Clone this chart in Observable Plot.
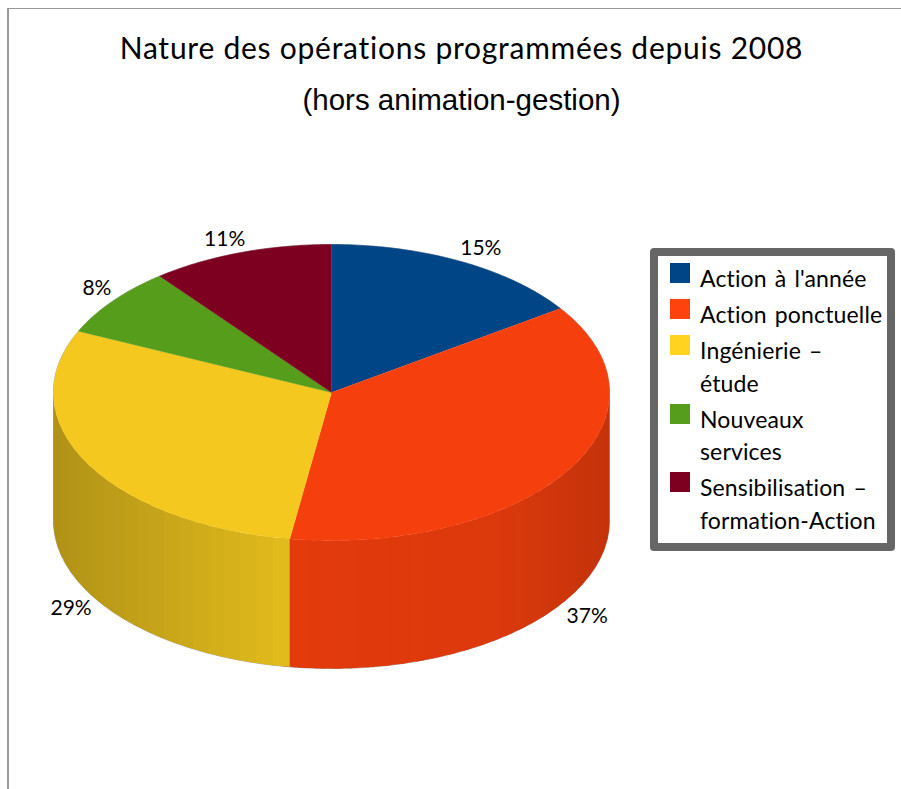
<!DOCTYPE html>
<html lang="fr"><head><meta charset="utf-8">
<script src="https://cdn.jsdelivr.net/npm/d3@7"></script>
<script src="https://cdn.jsdelivr.net/npm/@observablehq/plot@0.6"></script>
<style>
html,body{margin:0;padding:0;background:#fff}
#page{position:relative;width:901px;height:789px;overflow:hidden;font-family:Lato,sans-serif;color:#000}
#frame{position:absolute;left:7px;top:8px;right:0;bottom:0;border-left:2px solid #999;border-top:1px solid #999}
#chart{position:absolute;left:0;top:0}
h1{position:absolute;left:0;width:923px;top:25px;margin:0;text-align:center;font-weight:400;font-size:30px;line-height:44px;letter-spacing:.75px;white-space:nowrap}
h2{position:absolute;left:0;width:923px;top:80px;margin:0;text-align:center;font-family:"Liberation Sans",sans-serif;font-weight:400;font-size:29.5px;line-height:40px;white-space:nowrap}
#legend{position:absolute;left:650px;top:248px;width:229px;height:287px;border:8px solid #666;border-radius:4px;background:#fff}
#legend div{position:absolute;left:42px;font-size:23px;line-height:33px;letter-spacing:.15px;word-spacing:2px;white-space:pre}
#legend i{position:absolute;left:-30px;top:1px;width:20px;height:20px}
</style></head><body>
<div id="page"><div id="frame"></div><div id="chart"></div>
<h1>Nature des opérations programmées depuis 2008</h1>
<h2>(hors animation-gestion)</h2>
<div id="legend"></div></div>
<script>
const categories = ["Action à l'année","Action ponctuelle","Ingénierie – étude","Nouveaux services","Sensibilisation – formation-Action"];
const legendLines = [["Action à l'année"],["Action ponctuelle"],["Ingénierie –","étude"],["Nouveaux","services"],["Sensibilisation –","formation-Action"]];
const shares = [15.4, 37, 29.4, 7.6, 10.6];
const colors = ["#004586","#ff420e","#ffd320","#579d1c","#7e0021"];
const topColors = ["#004586","#f5400e","#f4c81e","#579d1c","#7e0021"];
const thickness = 128/148;

const rad = p => p/100*2*Math.PI;
const px = p => Math.sin(rad(p)), py = p => Math.cos(rad(p));
const total = d3.sum(shares);
let acc = 0;
const slices = categories.map((c,i)=>{const s={i,c,v:shares[i],a:acc,b:acc+shares[i]*100/total};acc=s.b;return s;});
function arc(a,b){const n=Math.max(2,Math.ceil((b-a)*4));return d3.range(n+1).map(k=>a+(b-a)*k/n);}
const shadeOf = d3.scaleLinear().domain([-1,-0.15,0.6,1]).range([0.69,0.89,0.86,0.77]);
function shade(hex,x){
  const m = shadeOf(x);
  const c = d3.rgb(hex); return d3.rgb(c.r*m,c.g*m,c.b*m).formatHex();
}
const topFaces = slices.flatMap(s=>[
  {id:s.i,x:0,y:0,color:topColors[s.i]},
  ...arc(s.a,s.b).map(p=>({id:s.i,x:px(p),y:py(p),color:topColors[s.i]}))
]);
const sideFaces = [];
for(const s of slices){
  const lo=Math.max(s.a,25), hi=Math.min(s.b,75);
  if(hi<=lo) continue;
  const steps=Math.ceil((hi-lo));
  for(let k=0;k<steps;k++){
    const a=lo+(hi-lo)*k/steps, b=lo+(hi-lo)*(k+1)/steps;
    const col=shade(colors[s.i],px((a+b)/2));
    const edge=arc(a,Math.min(b+0.5,75));
    [...edge.map(p=>[px(p),py(p)]),...edge.slice().reverse().map(p=>[px(p),py(p)-thickness])]
      .forEach(([x,y])=>sideFaces.push({id:s.i+"-"+k,x,y,color:col}));
  }
}
const outline=[...arc(25,75).map(p=>({x:px(p),y:py(p)-thickness})),...arc(75,125).map(p=>({x:px(p),y:py(p)}))];
outline.push(outline[0]);
const labels=slices.map(s=>{
  const m=(s.a+s.b)/2,x=px(m),y=py(m);
  return {t:Math.round(s.v)+"%",x:x+Math.sign(x)*18/278,y:y<0?y-thickness-15/148:y+15/148};
});
const plot=Plot.plot({
  width:901,height:789,margin:0,
  x:{domain:[-1,1],range:[53,609],axis:null},
  y:{domain:[-1,1],range:[540,244],axis:null},
  color:{type:"identity"},
  marks:[
    Plot.line(outline,{x:"x",y:"y",stroke:"#aaa",strokeWidth:1,curve:"linear"}),
    Plot.line(sideFaces,{x:"x",y:"y",z:"id",fill:"color",stroke:"none",curve:"linear"}),
    Plot.line(topFaces,{x:"x",y:"y",z:"id",fill:"color",stroke:"color",strokeWidth:.4,curve:"linear"}),
    Plot.text(labels,{x:"x",y:"y",text:"t",dx:2,dy:2,fontSize:21,fontFamily:"Lato,sans-serif",fill:"#000"})
  ]
});
document.getElementById("chart").append(plot);
const lg=document.getElementById("legend");
let yy=6;
legendLines.forEach((lines,i)=>{
  lines.forEach((l,j)=>{
    const d=document.createElement("div");d.textContent=l;d.style.top=(yy+j*32.5)+"px";
    if(j===0){const sw=document.createElement("i");sw.style.background=colors[i];d.append(sw);}
    lg.append(d);
  });
  yy+=lines.length===1?36:68.5;
});
</script></body></html>
